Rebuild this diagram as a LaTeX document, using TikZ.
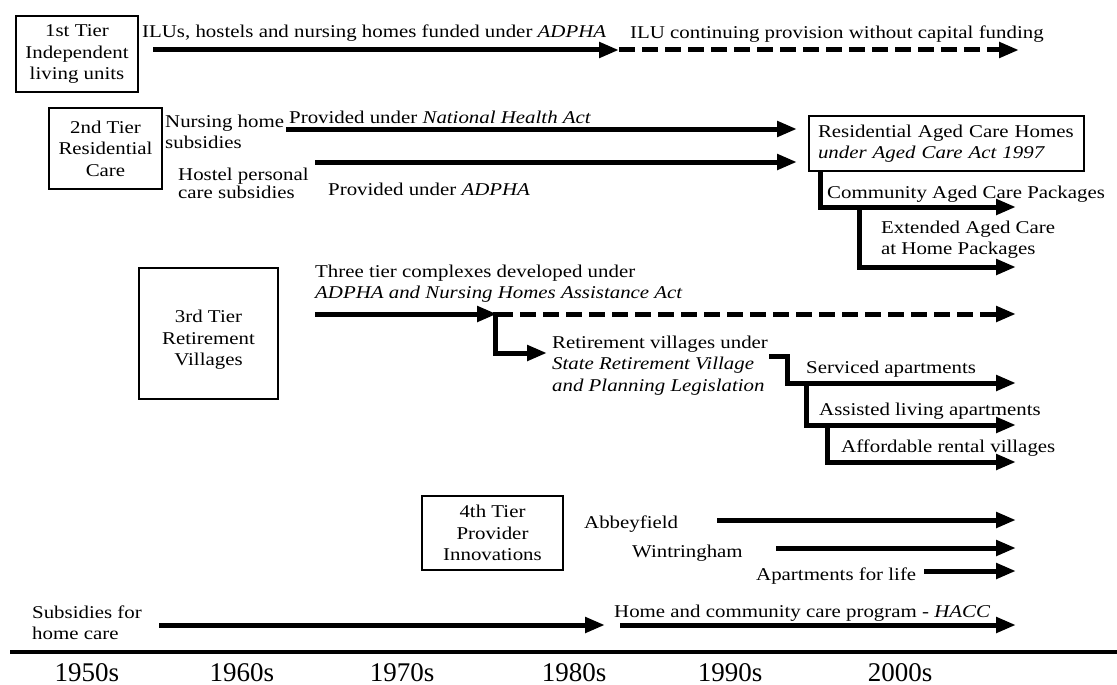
\documentclass[tikz,border=0pt]{standalone}
\usepackage{fontspec}
\setmainfont{Liberation Serif}[FakeStretch=1.16]
\newfontfamily\yearfont{Liberation Serif}
\usetikzlibrary{arrows.meta}

% left-aligned multi-line label whose baseline is the first line
\newcommand\mlines[1]{\begin{tabular}[t]{@{}l@{}}#1\end{tabular}}

\begin{document}
\begin{tikzpicture}[x=1pt,y=-1pt,
  every node/.style={inner sep=0pt, font=\fontsize{18}{21.5}\selectfont},
  tierbox/.style={draw, line width=1.3pt, inner sep=0pt, align=center},
  flow/.style={line width=5pt, line join=miter, -{Triangle[length=20pt,width=15pt]}},
  flowdash/.style={flow, dash pattern=on 16pt off 7pt},
  lbl/.style={anchor=base west},
  year/.style={anchor=base, font=\yearfont\fontsize{27}{30}\selectfont}
]
\fill[white] (0,0) rectangle (1117,685);
\useasboundingbox (0,0) rectangle (1117,685);

% ---------- 1st tier ----------
\node[tierbox, minimum width=122pt, minimum height=76pt] (t1) at (77,54)
  {1st Tier\\Independent\\living units};
\node[lbl] (t1a) at (142,38) {ILUs, hostels and nursing homes funded under \textit{ADPHA}};
\node[lbl] (t1b) at (630,39) {ILU continuing provision without capital funding};
\coordinate (a1s) at (153,50);
\coordinate (a1m) at (619,50);
\coordinate (a1e) at (1019,50);
\draw[flow] (a1s) -- (a1m);
\draw[flowdash] (a1m) -- (a1e);

% ---------- 2nd tier ----------
\node[tierbox, minimum width=113pt, minimum height=81pt] (t2) at (105.5,148.5)
  {2nd Tier\\Residential\\Care};
\node[lbl] (nhs) at (165,127) {\mlines{Nursing home\\subsidies}};
\node[lbl] (hps) at (178,180) {\mlines{Hostel personal\\[-3pt]care subsidies}};
\node[lbl] (nha) at (289,123) {Provided under \textit{National Health Act}};
\node[lbl] (adp) at (328,195) {Provided under \textit{ADPHA}};
\node[draw, line width=1.3pt, text width=257pt, inner xsep=9pt, inner ysep=0pt,
      minimum height=55pt, align=left] (rach) at (946.5,143.5)
  {Residential Aged Care Homes\\\textit{under Aged Care Act 1997}};
\coordinate (a2s) at (286,129);
\coordinate (a2e) at (797,129);
\coordinate (a3s) at (315,162);
\coordinate (a3e) at (797,162);
\draw[flow] (a2s) -- (a2e);
\draw[flow] (a3s) -- (a3e);

\node[lbl] (cacp) at (827,198) {Community Aged Care Packages};
\node[lbl] (eacp) at (881,233) {\mlines{Extended Aged Care\\at Home Packages}};
\coordinate (b1s) at (820,171);
\coordinate (b1e) at (1016,207);
\coordinate (b2s) at (859,207);
\coordinate (b2e) at (1016,267);
\draw[flow] (b1s) |- (b1e);
\draw[flow] (b2s) |- (b2e);

% ---------- 3rd tier ----------
\node[tierbox, minimum width=139pt, minimum height=131pt] (t3) at (208.5,333.5) {};
\node[align=center] (t3t) at (208.5,340) {3rd Tier\\Retirement\\Villages};
\node[lbl] (ttc) at (315,277)
  {\mlines{Three tier complexes developed under\\\textit{ADPHA and Nursing Homes Assistance Act}}};
\coordinate (c1s) at (315,314);
\coordinate (c1m) at (497,314);
\coordinate (c1e) at (1016,314);
\coordinate (c2s) at (495,312);
\coordinate (c2e) at (547,353);
\draw[flow] (c1s) -- (c1m);
\draw[flowdash] (c1m) -- (c1e);
\draw[flow] (c2s) |- (c2e);
\node[lbl] (rvu) at (552,348)
  {\mlines{Retirement villages under\\\textit{State Retirement Village}\\\textit{and Planning Legislation}}};

\coordinate (d1s) at (769,356);
\coordinate (d1k) at (787,356);
\coordinate (d1e) at (1016,383);
\coordinate (d2s) at (806,383);
\coordinate (d2e) at (1016,425);
\coordinate (d3s) at (827,425);
\coordinate (d3e) at (1016,462);
\draw[flow] (d1s) -- (d1k) |- (d1e);
\draw[flow] (d2s) |- (d2e);
\draw[flow] (d3s) |- (d3e);
\node[lbl] (sap) at (806,373) {Serviced apartments};
\node[lbl] (alap) at (819,415) {Assisted living apartments};
\node[lbl] (arv) at (841,452) {Affordable rental villages};

% ---------- 4th tier ----------
\node[tierbox, minimum width=141pt, minimum height=74pt] (t4) at (492.5,533)
  {4th Tier\\Provider\\Innovations};
\node[lbl] (abf) at (584,528) {Abbeyfield};
\node[lbl] (wtr) at (632,557) {Wintringham};
\node[lbl] (afl) at (756,580) {Apartments for life};
\coordinate (e1s) at (717,520);
\coordinate (e1e) at (1016,520);
\coordinate (e2s) at (776,548);
\coordinate (e2e) at (1016,548);
\coordinate (e3s) at (924,571);
\coordinate (e3e) at (1016,571);
\draw[flow] (e1s) -- (e1e);
\draw[flow] (e2s) -- (e2e);
\draw[flow] (e3s) -- (e3e);

% ---------- home care ----------
\node[lbl] (shc) at (32,618) {\mlines{Subsidies for\\home care}};
\node[lbl] (hacc) at (614,617) {Home and community care program - \textit{HACC}};
\coordinate (f1s) at (159,625);
\coordinate (f1e) at (605,625);
\coordinate (f2s) at (620,625);
\coordinate (f2e) at (1016,625);
\draw[flow] (f1s) -- (f1e);
\draw[flow] (f2s) -- (f2e);

% ---------- time axis ----------
\coordinate (ax1) at (10,652);
\coordinate (ax2) at (1117,652);
\draw[line width=3.5pt] (ax1) -- (ax2);
\node[year] (y50) at (87,681) {1950s};
\node[year] (y60) at (242,681) {1960s};
\node[year] (y70) at (402,681) {1970s};
\node[year] (y80) at (574,681) {1980s};
\node[year] (y90) at (730,681) {1990s};
\node[year] (y00) at (900,681) {2000s};
\end{tikzpicture}
\end{document}
